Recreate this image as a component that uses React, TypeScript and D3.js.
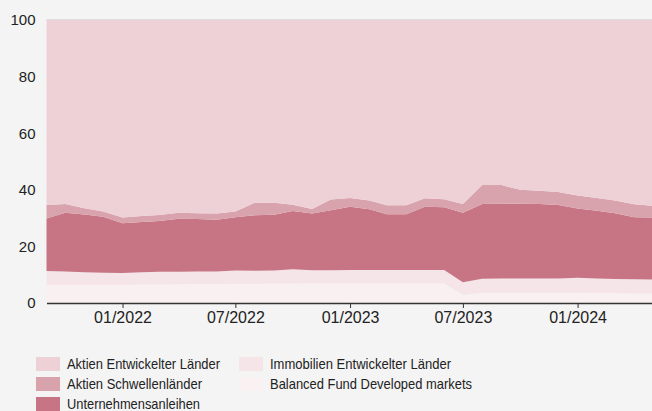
import * as d3 from "d3";
import { useEffect, useRef } from "react";

// Data (share of the portfolio in %, monthly)
const months = [
  "2021-09", "2021-10", "2021-11", "2021-12", "2022-01", "2022-02", "2022-03",
  "2022-04", "2022-05", "2022-06", "2022-07", "2022-08", "2022-09", "2022-10",
  "2022-11", "2022-12", "2023-01", "2023-02", "2023-03", "2023-04", "2023-05",
  "2023-06", "2023-07", "2023-08", "2023-09", "2023-10", "2023-11", "2023-12",
  "2024-01", "2024-02", "2024-03", "2024-04", "2024-05"
];

const seriesNames = [
  "Balanced Fund Developed markets",
  "Immobilien Entwickelter Länder",
  "Unternehmensanleihen",
  "Aktien Schwellenländer",
  "Aktien Entwickelter Länder"
];

const balanced = [
  6.4, 6.4, 6.4, 6.4, 6.4, 6.5, 6.5, 6.6, 6.7, 6.7, 6.8, 6.8, 6.9, 6.9, 7.0, 7.0, 7.0,
  7.0, 7.0, 7.0, 7.0, 7.0, 2.8, 3.6, 3.6, 3.6, 3.6, 3.6, 3.6, 3.5, 3.5, 3.4, 3.4
];
const immobilien = [
  4.9, 4.7, 4.5, 4.3, 4.2, 4.4, 4.5, 4.4, 4.4, 4.4, 4.7, 4.6, 4.6, 5.0, 4.6, 4.6, 4.7,
  4.7, 4.7, 4.7, 4.7, 4.7, 4.5, 5.0, 5.1, 5.1, 5.1, 5.1, 5.3, 5.2, 5.0, 5.0, 4.9
];
const anleihen = [
  18.6, 20.8, 20.4, 19.8, 17.6, 17.7, 18.0, 18.8, 18.6, 18.3, 18.8, 19.6, 19.7, 20.6,
  20.0, 21.2, 22.3, 21.4, 19.7, 19.7, 22.3, 22.1, 24.6, 26.4, 26.4, 26.4, 26.3, 25.9,
  24.5, 23.9, 23.2, 21.9, 21.9
];
const schwellen = [
  4.7, 3.1, 2.2, 1.8, 2.0, 2.1, 2.1, 2.1, 2.0, 2.2, 2.0, 4.4, 4.2, 2.2, 1.6, 3.8, 3.1,
  3.1, 3.1, 3.1, 3.0, 2.9, 3.1, 6.7, 6.6, 4.9, 4.7, 4.6, 4.6, 4.5, 4.5, 4.6, 4.1
];
const entwickelt = [
  65.4, 65.0, 66.5, 67.7, 69.8, 69.3, 68.9, 68.1, 68.3, 68.4, 67.7, 64.6, 64.6, 65.3,
  66.8, 63.4, 62.9, 63.8, 65.5, 65.5, 63.0, 63.3, 65.0, 58.3, 58.3, 60.0, 60.3, 60.8,
  62.0, 62.9, 63.8, 65.1, 65.7
];

const yTicks = [0, 20, 40, 60, 80, 100];
const xTickMonths = ["2022-01", "2022-07", "2023-01", "2023-07", "2024-01"];

const colors = ["#f8f0f1", "#f5e4e8", "#c77584", "#d9a3ad", "#eed1d7"];

// legend order: left column first, then right column
const legendOrder = [4, 3, 2, 1, 0];
// the legend font is a little condensed, squeeze each label to its width
const legendTextWidth = [153, 135, 133, 181, 202];

const drawChart = (el: HTMLDivElement) => {
  const width = 652;
  const height = 411;
  const margin = { top: 20, right: -1, bottom: 108, left: 46.5 };
  const font = "Arial, 'Liberation Sans', sans-serif";

  const parse = d3.timeParse("%Y-%m");
  const values = [balanced, immobilien, anleihen, schwellen, entwickelt];
  const data = months.map((m, i) => {
    const row: any = { date: parse(m) };
    seriesNames.forEach((s, k) => (row[s] = values[k][i]));
    return row;
  });

  d3.select(el).selectAll("*").remove();

  const svg = d3.select(el)
    .append("svg")
    .attr("width", width)
    .attr("height", height)
    .style("position", "absolute")
    .style("left", "0px")
    .style("top", "0px")
    .style("font-family", font);

  svg.append("rect")
    .attr("width", width)
    .attr("height", height)
    .attr("fill", "#f4f4f4");

  const x = d3.scaleTime()
    .domain(d3.extent(data, (d: any) => d.date) as [Date, Date])
    .range([margin.left, width - margin.right]);

  const y = d3.scaleLinear()
    .domain([0, 100])
    .range([height - margin.bottom, margin.top]);

  // top gridline
  svg.append("line")
    .attr("x1", margin.left)
    .attr("x2", width)
    .attr("y1", y(100) - 0.5)
    .attr("y2", y(100) - 0.5)
    .attr("stroke", "#dddddd")
    .attr("stroke-width", 1);

  const stack = d3.stack().keys(seriesNames);
  const layers = stack(data);

  const area = d3.area<any>()
    .x((d) => x(d.data.date))
    .y0((d) => y(d[0]))
    .y1((d) => y(d[1]));

  svg.append("g")
    .selectAll("path")
    .data(layers)
    .join("path")
    .attr("fill", (_d, i) => colors[i])
    .attr("d", area as any);

  // y axis
  const yAxis = d3.axisLeft(y).tickValues(yTicks).tickSize(0).tickPadding(11);
  const yG = svg.append("g")
    .attr("transform", `translate(${margin.left},0)`)
    .call(yAxis);
  yG.select(".domain").remove();
  yG.selectAll("text")
    .style("font-size", "15px")
    .style("font-family", font)
    .attr("fill", "#222");

  // x axis
  const xAxis = d3.axisBottom(x)
    .tickValues(xTickMonths.map((m) => parse(m) as Date))
    .tickFormat(d3.timeFormat("%m/%Y") as any)
    .tickSizeInner(5)
    .tickSizeOuter(0)
    .tickPadding(4);
  const xG = svg.append("g")
    .attr("transform", `translate(0,${y(0)})`)
    .call(xAxis);
  xG.select(".domain").attr("stroke", "#333").attr("stroke-width", 1.5);
  xG.selectAll(".tick line").attr("stroke", "#333");
  xG.selectAll("text")
    .style("font-size", "16px")
    .style("font-family", font)
    .attr("fill", "#222");

  // legend
  const legend = svg.append("g");
  legendOrder.forEach((k, j) => {
    const col = j < 3 ? 0 : 1;
    const row = j < 3 ? j : j - 3;
    const lx = col === 0 ? 36 : 239;
    const ly = 357 + row * 20;
    legend.append("rect")
      .attr("x", lx)
      .attr("y", ly)
      .attr("width", 24)
      .attr("height", 14)
      .attr("fill", colors[k]);
    legend.append("text")
      .attr("x", lx + 31)
      .attr("y", ly + 12)
      .attr("textLength", legendTextWidth[j])
      .attr("lengthAdjust", "spacingAndGlyphs")
      .style("font-size", "15px")
      .attr("fill", "#222")
      .text(seriesNames[k]);
  });
};

export default function App() {
  const ref = useRef<HTMLDivElement>(null);

  useEffect(() => {
    if (ref.current) drawChart(ref.current);
  }, []);

  return <div ref={ref} id="chart"></div>;
}
